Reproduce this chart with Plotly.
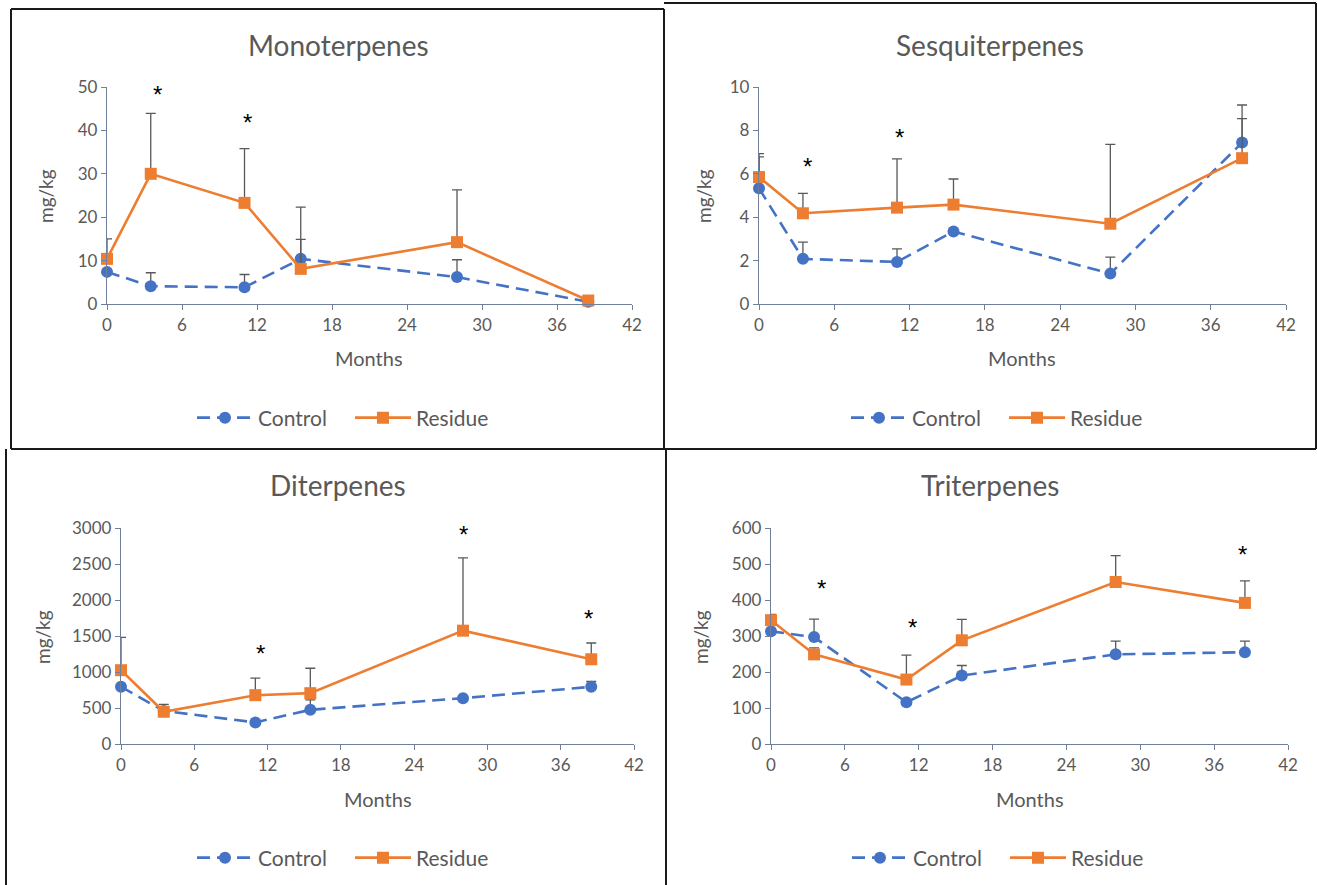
import plotly.graph_objects as go

W, H = 1317, 885

months = [0, 3.5, 11, 15.5, 28, 38.5]

# Monoterpenes
mono_control = [7.4, 4.1, 3.85, 10.4, 6.2, 0.5]
mono_control_err = [0, 3.1, 2.95, 4.5, 4.0, 0]
mono_residue = [10.4, 30.0, 23.3, 8.1, 14.25, 0.8]
mono_residue_err = [4.6, 13.9, 12.5, 14.2, 12.05, 1.0]
mono_star_x = [4.0, 11.2]
mono_star_y = [49.7, 43.3]

# Sesquiterpenes
sesq_control = [5.33, 2.08, 1.94, 3.34, 1.40, 7.44]
sesq_control_err = [1.45, 0.77, 0.60, 0, 0.76, 1.73]
sesq_residue = [5.85, 4.18, 4.44, 4.58, 3.70, 6.72]
sesq_residue_err = [1.08, 0.92, 2.25, 1.18, 3.66, 1.82]
sesq_star_x = [3.9, 11.2]
sesq_star_y = [6.63, 7.95]

# Diterpenes
dit_control = [794, 460, 300, 475, 637, 794]
dit_control_err = [0, 89, 0, 139, 0, 74]
dit_residue = [1025, 448, 678, 706, 1574, 1177]
dit_residue_err = [457, 0, 236, 346, 1011, 226]
dit_star_x = [11.4, 28.0, 38.3]
dit_star_y = [1347, 3000, 1832]

# Triterpenes
tri_control = [313, 297, 116, 190, 249, 255]
tri_control_err = [0, 50, 0, 28, 37, 31]
tri_residue = [344, 249, 179, 288, 450, 392]
tri_residue_err = [16, 18, 68, 58, 73, 61]
tri_star_x = [4.1, 11.5, 28.0, 38.3]
tri_star_y = [450, 341, 615, 543]

titles = ["Monoterpenes", "Sesquiterpenes", "Diterpenes", "Triterpenes"]
x_ticks = [0, 6, 12, 18, 24, 30, 36, 42]

panels = [
    dict(ctrl=mono_control, ce=mono_control_err, res=mono_residue, re=mono_residue_err,
         sx=mono_star_x, sy=mono_star_y, ymax=50, dtick=10,
         px=(107, 632), py=(304, 87), title=(338, 45), months=(369, 358), mg=(45, 196),
         leg=(192, 418)),
    dict(ctrl=sesq_control, ce=sesq_control_err, res=sesq_residue, re=sesq_residue_err,
         sx=sesq_star_x, sy=sesq_star_y, ymax=10, dtick=2,
         px=(759, 1286), py=(304, 87), title=(990, 45), months=(1022, 358), mg=(703, 196),
         leg=(846, 418)),
    dict(ctrl=dit_control, ce=dit_control_err, res=dit_residue, re=dit_residue_err,
         sx=dit_star_x, sy=dit_star_y, ymax=3000, dtick=500,
         px=(121, 634), py=(744, 528), title=(338, 485), months=(378, 799), mg=(42, 637),
         leg=(192, 858)),
    dict(ctrl=tri_control, ce=tri_control_err, res=tri_residue, re=tri_residue_err,
         sx=tri_star_x, sy=tri_star_y, ymax=600, dtick=100,
         px=(771, 1288), py=(744, 528), title=(990, 485), months=(1030, 799), mg=(700, 637),
         leg=(847, 858)),
]

BLUE = "#4472C4"
ORANGE = "#ED7D31"
GRAY = "#595959"
AXIS = "#70809A"
FONT = "Lato"

fig = go.Figure()
annotations = []
layout_extra = {}

for i, p in enumerate(panels):
    n = i + 1
    xa = "x" if n == 1 else f"x{n}"
    ya = "y" if n == 1 else f"y{n}"
    leg = "legend" if n == 1 else f"legend{n}"
    fig.add_trace(go.Scatter(
        x=months, y=p["ctrl"], name="Control", xaxis=xa, yaxis=ya, legend=leg,
        mode="lines+markers", cliponaxis=False,
        line=dict(color=BLUE, width=2.6, dash="13px,7px"),
        marker=dict(symbol="circle", size=12, color=BLUE),
        error_y=dict(type="data", symmetric=False, array=p["ce"], arrayminus=[0]*6,
                     color=GRAY, thickness=1.3, width=5),
    ))
    fig.add_trace(go.Scatter(
        x=months, y=p["res"], name="Residue", xaxis=xa, yaxis=ya, legend=leg,
        mode="lines+markers", cliponaxis=False,
        line=dict(color=ORANGE, width=2.6),
        marker=dict(symbol="square", size=12, color=ORANGE),
        error_y=dict(type="data", symmetric=False, array=p["re"], arrayminus=[0]*6,
                     color=GRAY, thickness=1.3, width=5),
    ))
    xkey = "xaxis" if n == 1 else f"xaxis{n}"
    ykey = "yaxis" if n == 1 else f"yaxis{n}"
    layout_extra[xkey] = dict(
        domain=[p["px"][0] / W, p["px"][1] / W], anchor=ya, range=[0, 42],
        tickvals=x_ticks, ticks="outside", ticklen=5, tickcolor=AXIS,
        showline=True, linecolor=AXIS, linewidth=1.3, showgrid=False, zeroline=False,
        tickfont=dict(family=FONT, size=17, color=GRAY), automargin=False,
    )
    layout_extra[ykey] = dict(
        domain=[1 - p["py"][0] / H, 1 - p["py"][1] / H], anchor=xa, range=[0, p["ymax"]],
        dtick=p["dtick"], ticks="outside", ticklen=5, tickcolor=AXIS,
        showline=True, linecolor=AXIS, linewidth=1.3, showgrid=False, zeroline=False,
        tickfont=dict(family=FONT, size=17, color=GRAY), automargin=False,
    )
    layout_extra[leg] = dict(
        orientation="h", x=p["leg"][0] / W, y=1 - p["leg"][1] / H, xanchor="left", yanchor="middle",
        xref="paper", yref="paper", bgcolor="rgba(0,0,0,0)",
        font=dict(family=FONT, size=21, color=GRAY), itemwidth=56, entrywidth=87,
    )
    annotations.append(dict(text=titles[i], x=p["title"][0] / W, y=1 - p["title"][1] / H,
                            xref="paper", yref="paper", showarrow=False,
                            xanchor="center", yanchor="middle",
                            font=dict(family=FONT, size=28, color=GRAY)))
    annotations.append(dict(text="Months", x=p["months"][0] / W, y=1 - p["months"][1] / H,
                            xref="paper", yref="paper", showarrow=False,
                            xanchor="center", yanchor="middle",
                            font=dict(family=FONT, size=20, color=GRAY)))
    annotations.append(dict(text="mg/kg", x=p["mg"][0] / W, y=1 - p["mg"][1] / H,
                            xref="paper", yref="paper", showarrow=False, textangle=-90,
                            xanchor="center", yanchor="middle",
                            font=dict(family=FONT, size=19, color=GRAY)))
    for sx, sy in zip(p["sx"], p["sy"]):
        annotations.append(dict(text="*", x=sx, y=sy, xref=xa, yref=ya, showarrow=False,
                                xanchor="center", yanchor="middle", yshift=-6,
                                font=dict(family="Liberation Sans", size=24, color="black")))

# panel borders (pixel positions)
borders = [
    (11, 9, 11, 449), (11, 9, 664, 9), (664, 9, 664, 449), (11, 449, 664, 449),
    (664, 3, 1316, 3), (1316, 3, 1316, 449), (664, 449, 1316, 449),
    (6, 449, 6, 885), (666, 449, 666, 885),
]
shapes = [dict(type="line", xref="paper", yref="paper", x0=a / W, y0=1 - b / H, x1=c / W, y1=1 - d / H,
               line=dict(color="#1a1a1a", width=2)) for a, b, c, d in borders]

fig.update_layout(
    width=W, height=H, margin=dict(l=0, r=0, t=0, b=0, autoexpand=False),
    paper_bgcolor="white", plot_bgcolor="white",
    annotations=annotations, shapes=shapes, showlegend=True,
    **layout_extra,
)

fig.write_html("out.html")
